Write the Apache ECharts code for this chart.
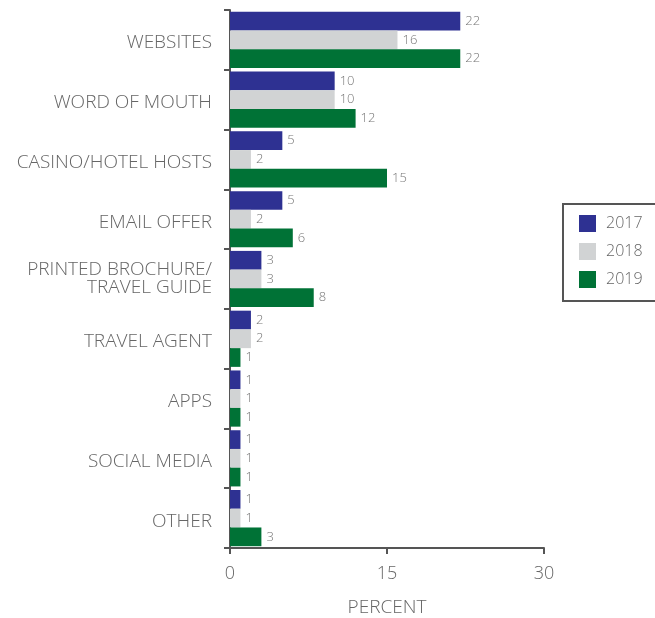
<!DOCTYPE html>
<html>
<head>
<meta charset="utf-8">
<script src="https://cdn.jsdelivr.net/npm/echarts@6/dist/echarts.min.js"></script>
<style>
  html, body { margin: 0; padding: 0; background: #fff; }
  #chart { width: 655px; height: 618px; }
</style>
</head>
<body>
<div id="chart"></div>
<script>
// Sources used to learn about the destination (percent of respondents)
const categories = [
  'WEBSITES', 'WORD OF MOUTH', 'CASINO/HOTEL HOSTS', 'EMAIL OFFER',
  'PRINTED BROCHURE/\nTRAVEL GUIDE', 'TRAVEL AGENT', 'APPS', 'SOCIAL MEDIA', 'OTHER'
];
const years = ['2017', '2018', '2019'];
const values2017 = [22, 10, 5, 5, 3, 2, 1, 1, 1];
const values2018 = [16, 10, 2, 2, 3, 2, 1, 1, 1];
const values2019 = [22, 12, 15, 6, 8, 1, 1, 1, 3];
const xTicks = [0, 15, 30];

const colors = ['#2E3192', '#D1D3D4', '#007236'];
const textColor = '#666666';
const axisColor = '#555555';
const fontFamily = '"Open Sans", Lato, sans-serif';
const fontWeight = 300;

const chart = echarts.init(document.getElementById('chart'), null, { renderer: 'canvas' });

function barSeries(name, data, color) {
  return {
    name: name,
    type: 'bar',
    data: data,
    barGap: '0%',
    barCategoryGap: '6%',
    itemStyle: { color: color },
    label: {
      show: true,
      position: 'right',
      distance: 5,
      color: '#777777',
      fontSize: 13,
      fontWeight: fontWeight,
      fontFamily: fontFamily
    },
    emphasis: { disabled: true }
  };
}

const catLabelFont = {
  color: textColor, fontSize: 19, fontWeight: fontWeight, fontFamily: fontFamily
};

chart.setOption({
  animation: false,
  color: colors,
  grid: {
    left: 230, right: 111, top: 10, bottom: 70,
    containLabel: false,
    outerBoundsMode: 'none'
  },
  legend: {
    orient: 'vertical',
    left: 563,
    top: 204,
    padding: [11, 60, 13, 16],
    itemWidth: 17,
    itemHeight: 17,
    itemGap: 11,
    borderColor: axisColor,
    borderWidth: 2,
    borderRadius: 0,
    icon: 'rect',
    textStyle: {
      color: textColor, fontSize: 16, fontWeight: fontWeight, fontFamily: fontFamily,
      padding: [0, 0, 0, 5]
    },
    data: years
  },
  xAxis: {
    type: 'value',
    min: 0,
    max: 30,
    interval: 15,
    name: 'PERCENT',
    nameLocation: 'middle',
    nameGap: 50,
    nameTextStyle: { color: textColor, fontSize: 19, fontWeight: fontWeight, fontFamily: fontFamily },
    axisLine: { show: true, lineStyle: { color: axisColor, width: 2 } },
    axisTick: { show: true, length: 6, lineStyle: { color: axisColor, width: 2 } },
    axisLabel: {
      color: textColor, fontSize: 18, fontWeight: fontWeight, fontFamily: fontFamily, margin: 17,
      customValues: xTicks
    },
    splitLine: { show: false }
  },
  yAxis: {
    type: 'category',
    data: categories,
    inverse: true,
    axisLine: { show: true, lineStyle: { color: axisColor, width: 2 } },
    axisTick: { show: true, length: 6, lineStyle: { color: axisColor, width: 2 } },
    axisLabel: Object.assign({}, catLabelFont, {
      margin: 18,
      lineHeight: 18,
      align: 'right',
      verticalAlign: 'middle',
      // single-line names sit slightly below the band centre
      formatter: function (v) { return v.indexOf('\n') >= 0 ? v : '{s|' + v + '}'; },
      rich: {
        s: Object.assign({}, catLabelFont, { lineHeight: 18, padding: [6, 0, 0, 0] })
      }
    })
  },
  series: [
    barSeries(years[0], values2017, colors[0]),
    barSeries(years[1], values2018, colors[1]),
    barSeries(years[2], values2019, colors[2])
  ]
});
</script>
</body>
</html>
